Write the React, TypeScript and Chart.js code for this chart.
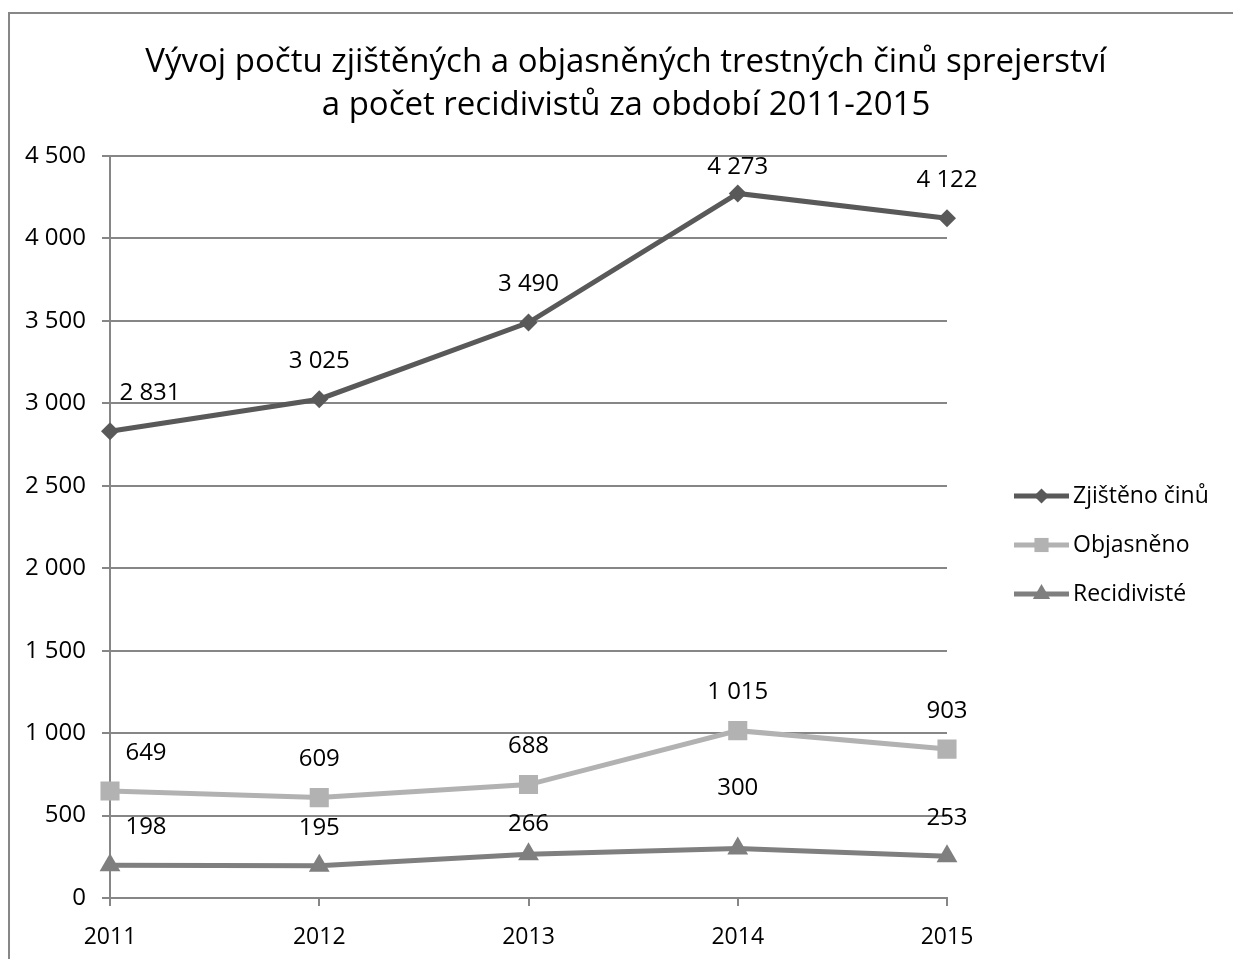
import React, { useEffect, useRef } from "react";
import { Chart, registerables } from "chart.js";

Chart.register(...registerables);

const years = ["2011", "2012", "2013", "2014", "2015"];
const zjistenoCinu = [2831, 3025, 3490, 4273, 4122];
const objasneno = [649, 609, 688, 1015, 903];
const recidiviste = [198, 195, 266, 300, 253];
const titleLines = [
  "Vývoj počtu zjištěných a objasněných trestných činů sprejerství",
  "a počet recidivistů za období 2011-2015",
];
const seriesNames = ["Zjištěno činů", "Objasněno", "Recidivisté"];

const FONT = "'Open Sans', Lato, sans-serif";
const GRID = "#868686";
const TXT = 24;

const fmt = (v: number) => String(v).replace(/\B(?=(\d{3})+(?!\d))/g, " ");

// label placement tweaks [dx, dy] per dataset/point (layout only)
const labelShift: Record<string, [number, number]> = {
  "0-0": [40, 0],
  "1-0": [36, 0],
  "2-0": [36, 0],
  "0-3": [0, 12],
  "2-3": [0, -22],
  "2-2": [0, 8],
};

function drawMarker(ctx: CanvasRenderingContext2D, style: string, x: number, y: number, r: number, color: string) {
  ctx.fillStyle = color;
  ctx.beginPath();
  if (style === "rectRot") {
    ctx.moveTo(x, y - r);
    ctx.lineTo(x + r, y);
    ctx.lineTo(x, y + r);
    ctx.lineTo(x - r, y);
  } else if (style === "rect") {
    const s = r * Math.SQRT1_2;
    ctx.rect(x - s, y - s, 2 * s, 2 * s);
  } else {
    ctx.moveTo(x, y - r);
    ctx.lineTo(x + r * 0.866, y + r * 0.5);
    ctx.lineTo(x - r * 0.866, y + r * 0.5);
  }
  ctx.closePath();
  ctx.fill();
}

const overlayPlugin = {
  id: "overlay",
  afterDraw(chart: any) {
    const ctx = chart.ctx;
    ctx.save();
    // title
    ctx.fillStyle = "#000";
    ctx.font = `33px ${FONT}`;
    ctx.textAlign = "center";
    ctx.textBaseline = "alphabetic";
    const cx = chart.width / 2 - 2;
    ctx.fillText(titleLines[0], cx, 58);
    ctx.fillText(titleLines[1], cx, 101);

    // data labels
    ctx.font = `${TXT}px ${FONT}`;
    ctx.textBaseline = "middle";
    chart.data.datasets.forEach((ds: any, di: number) => {
      const meta = chart.getDatasetMeta(di);
      meta.data.forEach((pt: any, i: number) => {
        const s = labelShift[`${di}-${i}`] || [0, 0];
        ctx.fillText(fmt(ds.data[i]), pt.x + s[0], pt.y - 38 + s[1]);
      });
    });

    // legend
    const lx = 1004;
    const ly0 = 482;
    const gap = 49;
    chart.data.datasets.forEach((ds: any, di: number) => {
      const y = ly0 + di * gap;
      ctx.strokeStyle = ds.borderColor;
      ctx.lineWidth = ds.borderWidth;
      ctx.beginPath();
      ctx.moveTo(lx, y);
      ctx.lineTo(lx + 55, y);
      ctx.stroke();
      const style = ds.pointStyle;
      const r = style === "rect" ? 10 : style === "triangle" ? 10 : 7.5;
      drawMarker(ctx, style, lx + 27.5, y, r, ds.pointBackgroundColor);
      ctx.fillStyle = "#000";
      ctx.textAlign = "left";
      ctx.textBaseline = "middle";
      ctx.font = `23px ${FONT}`;
      ctx.fillText(seriesNames[di], lx + 59, y);
    });
    ctx.restore();
  },
};

export default function App() {
  const ref = useRef<HTMLCanvasElement | null>(null);

  useEffect(() => {
    if (!ref.current) return;
    const chart = new Chart(ref.current, {
      type: "line",
      data: {
        labels: years,
        datasets: [
          {
            label: seriesNames[0],
            data: zjistenoCinu,
            borderColor: "#595959",
            backgroundColor: "#595959",
            pointBackgroundColor: "#595959",
            pointBorderWidth: 0,
            borderWidth: 5,
            pointStyle: "rectRot",
            pointRadius: 9,
            tension: 0,
          },
          {
            label: seriesNames[1],
            data: objasneno,
            borderColor: "#b2b2b2",
            backgroundColor: "#b2b2b2",
            pointBackgroundColor: "#b2b2b2",
            pointBorderWidth: 0,
            borderWidth: 5,
            pointStyle: "rect",
            pointRadius: 13.5,
            tension: 0,
          },
          {
            label: seriesNames[2],
            data: recidiviste,
            borderColor: "#7f7f7f",
            backgroundColor: "#7f7f7f",
            pointBackgroundColor: "#7f7f7f",
            pointBorderWidth: 0,
            borderWidth: 5,
            pointStyle: "triangle",
            pointRadius: 12,
            tension: 0,
          },
        ] as any,
      },
      options: {
        animation: false,
        responsive: false,
        maintainAspectRatio: false,
        layout: { padding: { top: 142, right: 299, bottom: 0, left: 0 } },
        plugins: {
          legend: { display: false },
          title: { display: false },
          tooltip: { enabled: false },
        },
        scales: {
          x: {
            type: "category",
            offset: false,
            grid: {
              drawOnChartArea: false,
              drawTicks: true,
              tickLength: 8,
              color: GRID,
              lineWidth: 2,
            },
            border: { display: true, color: GRID, width: 2 },
            ticks: {
              color: "#000",
              font: { family: FONT, size: 23 },
              padding: 18,
              maxRotation: 0,
            },
            afterFit: (s: any) => {
              s.height = 60;
            },
          },
          y: {
            min: 0,
            max: 4500,
            ticks: {
              stepSize: 500,
              color: "#000",
              font: { family: FONT, size: TXT },
              padding: 16,
              callback: (v: any) => fmt(Number(v)),
            },
            grid: {
              color: GRID,
              lineWidth: 2,
              tickLength: 8,
              drawTicks: true,
            },
            border: { display: true, color: GRID, width: 2 },
            afterFit: (s: any) => {
              s.width = 100;
            },
          },
        },
      } as any,
      plugins: [overlayPlugin],
    });
    return () => chart.destroy();
  }, []);

  return (
    <div
      style={{
        position: "fixed",
        left: 0,
        top: 0,
        width: 1233,
        height: 959,
        overflow: "hidden",
        background: "#fff",
      }}
    >
      <div
        style={{
          position: "absolute",
          left: 8,
          top: 12,
          width: 1240,
          height: 960,
          border: "2px solid #878787",
          boxSizing: "border-box",
        }}
      >
        <canvas ref={ref} width={1236} height={944} style={{ display: "block" }} />
      </div>
    </div>
  );
}
